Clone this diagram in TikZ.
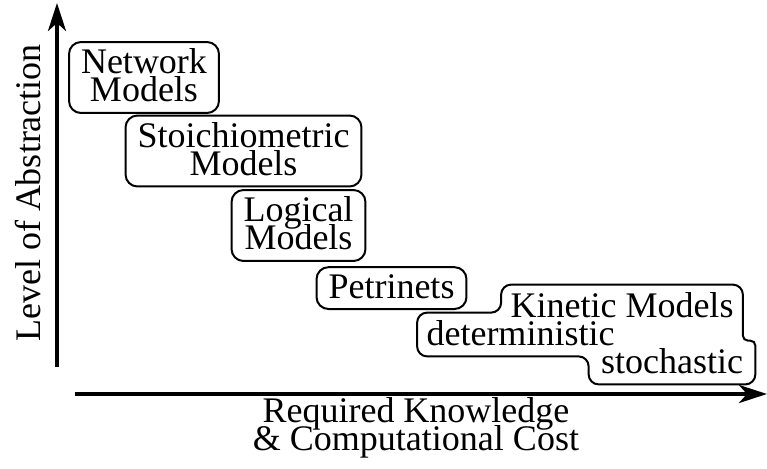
\documentclass[tikz,border=0pt]{standalone}
\usepackage{fontspec}
\setmainfont{Liberation Serif}
\usetikzlibrary{arrows.meta,positioning}
\setlength{\lineskiplimit}{-100pt}

\begin{document}
\begin{tikzpicture}[
  x=0.5pt, y=0.5pt,
  every node/.style={font=\fontsize{18}{14}\selectfont,
                     inner xsep=4.5pt, inner ysep=3.5pt},
  model/.style={draw, line width=1pt, rounded corners=6pt, align=center,
                text depth=2pt, inner xsep=6pt},
  part/.style={anchor=base, text depth=2pt},
  axis/.style={line width=2pt, -{Stealth[length=14pt, width=9pt, inset=4pt]}},
]

\useasboundingbox (0,0) rectangle (767,468);

%% Axes
\coordinate (ybot) at (57, 101);
\coordinate (ytop) at (57, 465);
\coordinate (xleft) at (75, 74);
\coordinate (xright) at (767, 74);
\draw[axis] (ybot) -- (ytop);
\draw[axis] (xleft) -- (xright);

\node[rotate=90, anchor=base] (ylabel) at (40, 275) {Level of Abstraction};
\node[align=center] (xlabel) at (416, 40) {Required Knowledge\\\& Computational Cost};

%% Model classes, from abstract to detailed
\node[model] (network) at (144, 390.5) {Network\\Models};
\node[model] (stoich)  at (243.5, 317) {Stoichiometric\\Models};
\node[model] (logical) at (298.5, 242.5) {Logical\\Models};
\node[model, anchor=base] (petri) at (391.5, 170) {Petrinets};

%% Kinetic models: three lines, one outline
\node[part] (kinetic) at (622, 151) {Kinetic Models};
\node[part] (determ)  at (520.5, 123) {deterministic};
\node[part, inner xsep=6pt] (stoch) at (672, 95) {stochastic};

\draw[line width=1pt, rounded corners=5pt]
  (kinetic.north) -- (kinetic.north east)
  [rounded corners=2.5pt] -- (kinetic.east |- stoch.north) -- (stoch.north east)
  [rounded corners=5pt] -- (stoch.south east) -- (stoch.south west)
  -- (stoch.west |- determ.south) -- (determ.south west) -- (determ.north west)
  -- (kinetic.west |- determ.north) -- (kinetic.north west) -- cycle;

\end{tikzpicture}
\end{document}
